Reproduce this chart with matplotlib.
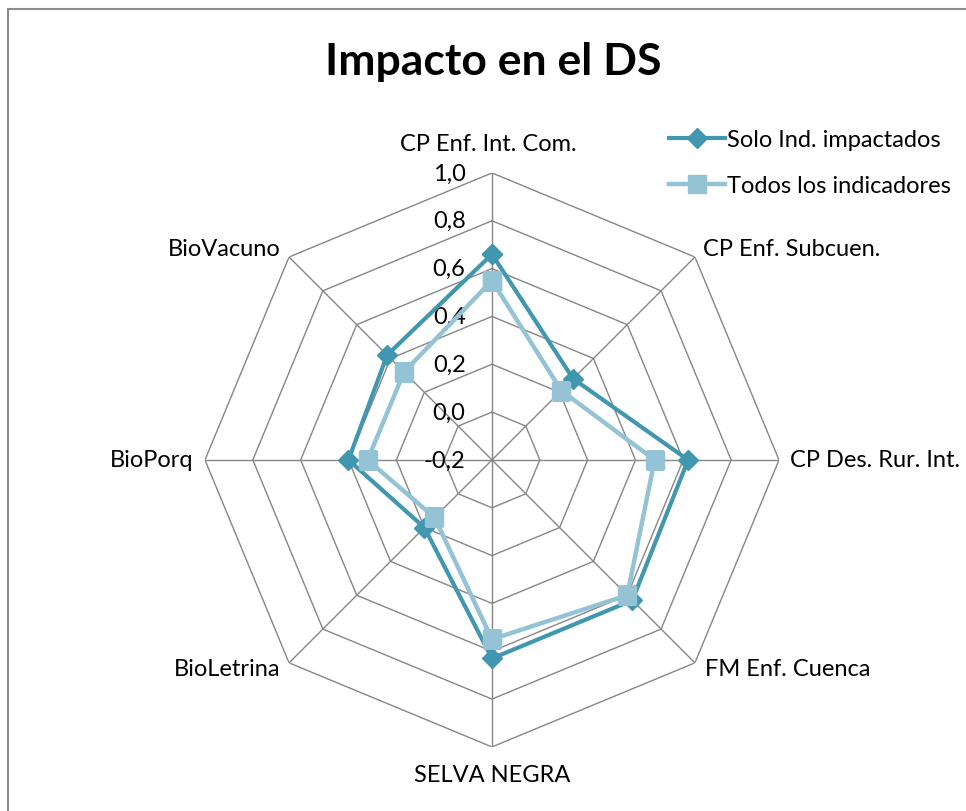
import numpy as np
import matplotlib
matplotlib.use("Agg")
import matplotlib.pyplot as plt
from matplotlib.lines import Line2D

# Data
categories = ["CP Enf. Int. Com.", "CP Enf. Subcuen.", "CP Des. Rur. Int.",
              "FM Enf. Cuenca", "SELVA NEGRA", "BioLetrina", "BioPorq", "BioVacuno"]
solo_impactados = [0.66, 0.28, 0.62, 0.63, 0.63, 0.20, 0.40, 0.42]
todos_indicadores = [0.55, 0.21, 0.48, 0.60, 0.55, 0.14, 0.32, 0.32]
series_names = ["Solo Ind. impactados", "Todos los indicadores"]
r_ticks = [-0.2, 0.0, 0.2, 0.4, 0.6, 0.8, 1.0]
r_tick_labels = ["-0,2", "0,0", "0,2", "0,4", "0,6", "0,8", "1,0"]

DARK = "#4097AF"
LIGHT = "#93C3D5"
GRID = "#868686"
FONT = "Lato"
FS = 17

plt.rcParams['font.family'] = [FONT, 'DejaVu Sans']

fig = plt.figure(figsize=(9.66, 8.12), dpi=100)
ax = fig.add_axes([0.2122, 0.0789, 0.5942, 0.7069], projection='polar')
ax.set_theta_zero_location('N')
ax.set_theta_direction(-1)
ax.set_ylim(r_ticks[0], r_ticks[-1])
ax.grid(False)
ax.set_xticks([])
ax.set_yticks([])
ax.spines['polar'].set_visible(False)
ax.patch.set_visible(False)

n = len(categories)
angles = list(np.linspace(0, 2 * np.pi, n, endpoint=False))
closed = angles + angles[:1]

# octagonal grid
for lvl in r_ticks:
    ax.plot(closed, [lvl] * (n + 1), color=GRID, lw=1.0, zorder=1)
for a in angles:
    ax.plot([a, a], [r_ticks[0], r_ticks[-1]], color=GRID, lw=1.0, zorder=1)

# radial tick labels, left of the top spoke
for val, lab in zip(r_ticks, r_tick_labels):
    ax.annotate(lab, xy=(0, val), xytext=(-19, 0), textcoords='offset points',
                ha='right', va='center', fontsize=FS, color='black')

# category labels
label_offsets = [(-3, 21, 'center'), (6, 6, 'left'), (8, 0, 'left'), (7, -4, 'left'),
                 (0, -20, 'center'), (-6, -4, 'right'), (-8, 0, 'right'), (-6, 6, 'right')]
for a, lab, (dx, dy, ha) in zip(angles, categories, label_offsets):
    ax.annotate(lab, xy=(a, r_ticks[-1]), xytext=(dx, dy), textcoords='offset points',
                ha=ha, va='center', fontsize=FS, color='black')

# series
ax.plot(closed, solo_impactados + solo_impactados[:1], color=DARK, lw=3,
        marker='D', ms=10.5, mec=DARK, mfc=DARK, zorder=3, label=series_names[0])
ax.plot(closed, todos_indicadores + todos_indicadores[:1], color=LIGHT, lw=3.2,
        marker='s', ms=13.5, mec=LIGHT, mfc=LIGHT, zorder=4, label=series_names[1])

fig.legend(loc='upper left', bbox_to_anchor=(0.683, 0.851), frameon=False,
           fontsize=FS, handlelength=2.35, handletextpad=0.1, labelspacing=1.05,
           borderaxespad=0)

fig.text(0.511, 0.924, "Impacto en el DS", ha='center', va='center',
         fontsize=32, fontweight='bold')

# chart frame (only top and left edges visible in the crop)
fig.add_artist(Line2D([8 / 966, 8 / 966], [0, 1 - 10 / 812], color='#8C8C8C', lw=1.5))
fig.add_artist(Line2D([8 / 966, 1], [1 - 10 / 812, 1 - 10 / 812], color='#8C8C8C', lw=1.5))

fig.savefig("out.png", dpi=100)
